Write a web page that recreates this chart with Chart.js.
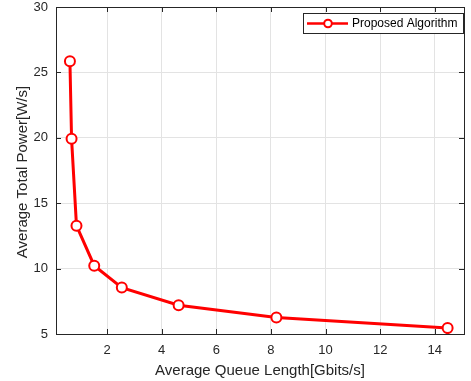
<!DOCTYPE html>
<html>
<head>
<meta charset="utf-8">
<script src="https://cdn.jsdelivr.net/npm/chart.js@4.4.1/dist/chart.umd.min.js"></script>
<style>
  html, body { margin: 0; padding: 0; background: #fff; }
  #wrap { width: 471px; height: 381px; }
</style>
</head>
<body>
<div id="wrap"><canvas id="powerChart" width="471" height="381"></canvas></div>
<script>
// values
const queueLength = [0.64, 0.70, 0.88, 1.53, 2.54, 4.62, 8.2, 14.47];
const totalPower = [25.85, 19.92, 13.28, 10.22, 8.55, 7.2, 6.27, 5.45];
const xTicks = [2, 4, 6, 8, 10, 12, 14];
const yTicks = [5, 10, 15, 20, 25, 30];
const seriesName = 'Proposed Algorithm';

const axisColor = '#262626';
const fontFamily = '"Liberation Sans", Arial, sans-serif';

// matlab style box: inner ticks on every side + axis titles + legend
const boxPlugin = {
  id: 'boxPlugin',
  afterDraw(chart) {
    const { ctx, chartArea: a, scales } = chart;
    ctx.save();
    ctx.strokeStyle = axisColor;
    ctx.lineWidth = 1;
    ctx.beginPath();
    xTicks.forEach(v => {
      const px = Math.round(scales.x.getPixelForValue(v)) + 0.5;
      ctx.moveTo(px, a.bottom); ctx.lineTo(px, a.bottom - 5);
      ctx.moveTo(px, a.top); ctx.lineTo(px, a.top + 5);
    });
    yTicks.forEach(v => {
      const py = Math.round(scales.y.getPixelForValue(v)) + 0.5;
      ctx.moveTo(a.left, py); ctx.lineTo(a.left + 5, py);
      ctx.moveTo(a.right, py); ctx.lineTo(a.right - 5, py);
    });
    ctx.stroke();
    ctx.strokeRect(a.left + 0.5, a.top + 0.5, a.right - a.left, a.bottom - a.top);

    // axis titles
    ctx.fillStyle = axisColor;
    ctx.font = '15px ' + fontFamily;
    ctx.textAlign = 'center';
    ctx.textBaseline = 'alphabetic';
    ctx.fillText('Average Queue Length[Gbits/s]', (a.left + a.right) / 2, 375);
    ctx.translate(27, 172);
    ctx.rotate(-Math.PI / 2);
    ctx.fillText('Average Total Power[W/s]', 0, 0);
    ctx.restore();

    // legend
    ctx.save();
    const lx = 303, ly = 13, lw = 160, lh = 20;
    ctx.fillStyle = '#fff';
    ctx.fillRect(lx, ly, lw, lh);
    ctx.strokeStyle = '#262626';
    ctx.lineWidth = 1;
    ctx.strokeRect(lx + 0.5, ly + 0.5, lw, lh);
    ctx.strokeStyle = '#ff0000';
    ctx.lineWidth = 2.5;
    ctx.beginPath();
    ctx.moveTo(307, ly + 10.5); ctx.lineTo(348, ly + 10.5);
    ctx.stroke();
    ctx.beginPath();
    ctx.arc(328, ly + 10.5, 3.8, 0, Math.PI * 2);
    ctx.fillStyle = '#fff';
    ctx.fill();
    ctx.lineWidth = 2;
    ctx.stroke();
    ctx.fillStyle = '#000';
    ctx.font = '12px ' + fontFamily;
    ctx.textAlign = 'left';
    ctx.textBaseline = 'middle';
    ctx.fillText(seriesName, 352, ly + 11);
    ctx.restore();
  }
};

new Chart(document.getElementById('powerChart'), {
  type: 'scatter',
  data: {
    datasets: [{
      label: seriesName,
      data: queueLength.map((x, i) => ({ x: x, y: totalPower[i] })),
      showLine: true,
      borderColor: '#ff0000',
      borderWidth: 3,
      pointRadius: 5,
      pointBorderWidth: 2,
      pointBackgroundColor: '#ffffff',
      pointBorderColor: '#ff0000',
      tension: 0
    }]
  },
  options: {
    responsive: false,
    animation: false,
    layout: { padding: { top: 5, right: 5, left: 0, bottom: 0 } },
    plugins: { legend: { display: false }, tooltip: { enabled: false } },
    scales: {
      x: {
        type: 'linear',
        min: 0.13,
        max: 15.07,
        afterBuildTicks: s => { s.ticks = xTicks.map(v => ({ value: v })); },
        afterFit: s => { s.height = 47; s.paddingLeft = 0; s.paddingRight = 0; },
        grid: { color: '#e3e3e3', drawTicks: false },
        border: { display: false },
        ticks: { color: axisColor, padding: 9, font: { family: fontFamily, size: 13 }, maxRotation: 0 }
      },
      y: {
        min: 5,
        max: 30,
        afterBuildTicks: s => { s.ticks = yTicks.map(v => ({ value: v })); },
        afterFit: s => { s.width = 56; s.paddingTop = 0; s.paddingBottom = 0; },
        grid: { color: '#e3e3e3', drawTicks: false },
        border: { display: false },
        ticks: { color: axisColor, padding: 8, font: { family: fontFamily, size: 13 } }
      }
    }
  },
  plugins: [boxPlugin]
});
</script>
</body>
</html>
